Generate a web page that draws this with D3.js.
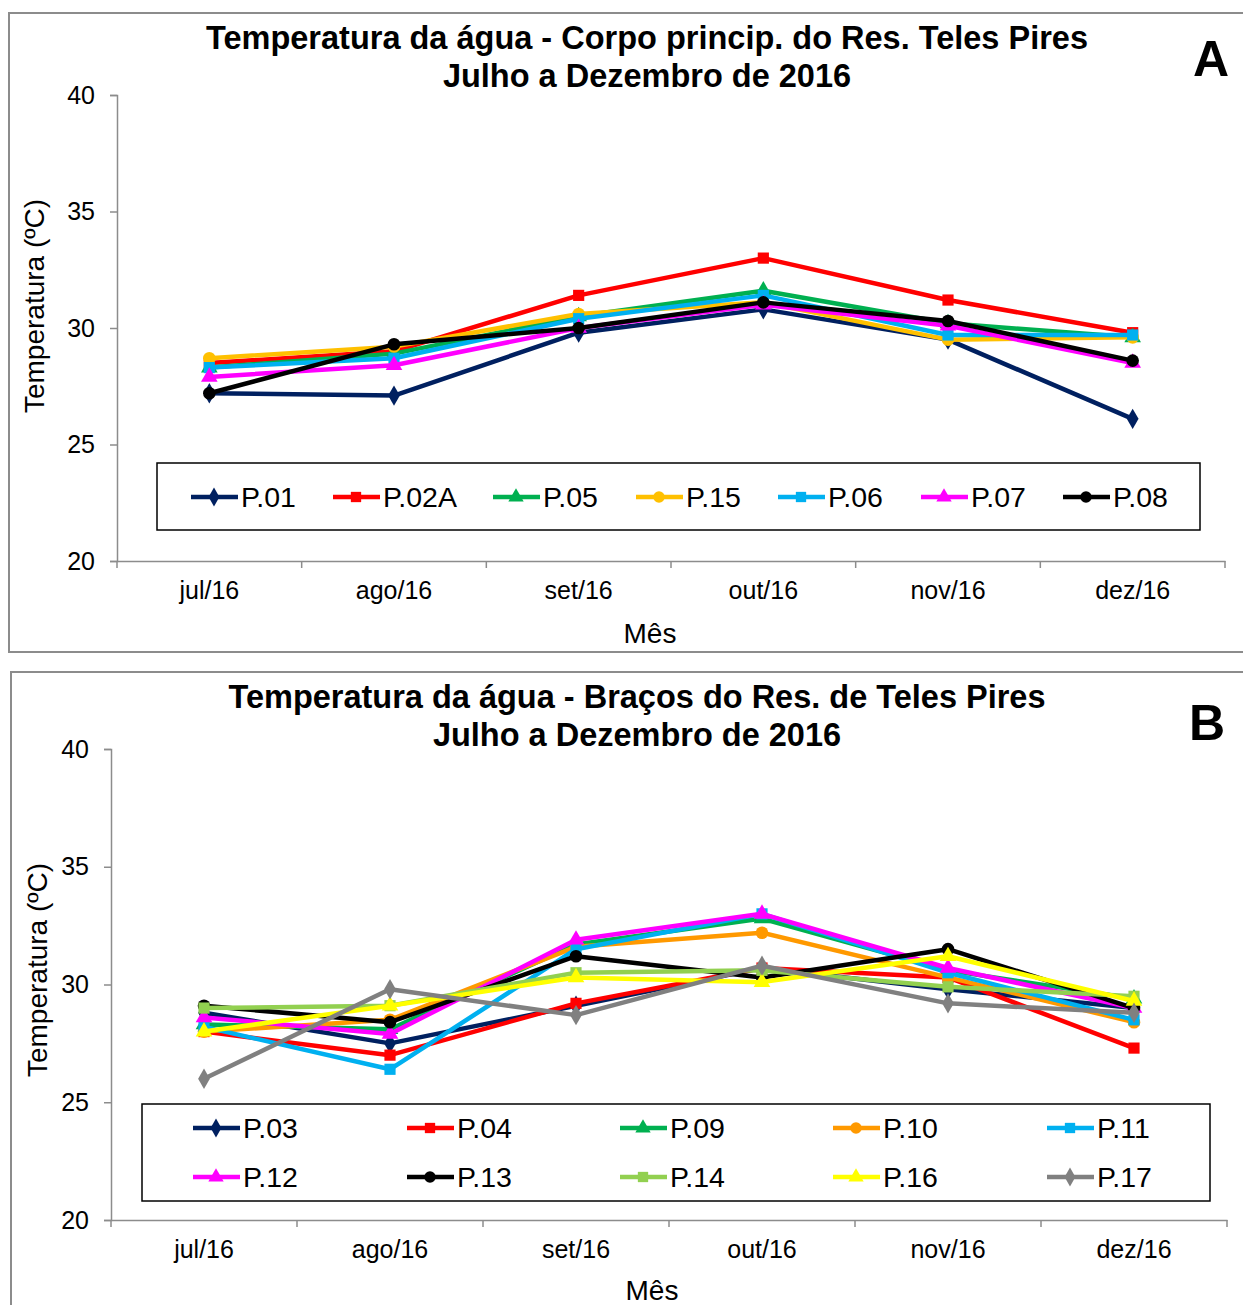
<!DOCTYPE html>
<html><head><meta charset="utf-8">
<script src="https://cdn.jsdelivr.net/npm/d3@7"></script>
<style>body{margin:0;background:#fff}svg{display:block;font-family:"Liberation Sans",Arial,sans-serif}</style>
</head><body>
<svg id="c" width="1243" height="1305"></svg>
<script>
const months = ["jul/16","ago/16","set/16","out/16","nov/16","dez/16"];
const yTicks = [20,25,30,35,40];

const namesA = ["P.01","P.02A","P.05","P.15","P.06","P.07","P.08"];
const colorsA = ["#002060","#FF0000","#00B050","#FFC000","#00B0F0","#FF00FF","#000000"];
const shapesA = ["diamond","square","triangle","circle","square","triangle","circle"];
const p01 = [27.2,27.1,29.8,30.8,29.5,26.1];
const p02A = [28.5,29.0,31.4,33.0,31.2,29.8];
const p05 = [28.3,28.9,30.5,31.6,30.2,29.6];
const p15 = [28.7,29.2,30.6,31.1,29.5,29.6];
const p06 = [28.3,28.7,30.4,31.4,29.7,29.7];
const p07 = [27.9,28.4,30.0,31.0,30.1,28.5];
const p08 = [27.2,29.3,30.0,31.1,30.3,28.6];
const valuesA = [p01,p02A,p05,p15,p06,p07,p08];

const namesB = ["P.03","P.04","P.09","P.10","P.11","P.12","P.13","P.14","P.16","P.17"];
const colorsB = ["#002060","#FF0000","#00B050","#FF9900","#00B0F0","#FF00FF","#000000","#92D050","#FFFF00","#808080"];
const shapesB = ["diamond","square","triangle","circle","square","triangle","circle","square","triangle","diamond"];
const p03 = [28.8,27.5,29.1,30.7,29.8,29.0];
const p04 = [28.0,27.0,29.2,30.7,30.3,27.3];
const p09 = [28.3,28.1,31.7,32.8,30.6,29.4];
const p10 = [28.0,28.5,31.6,32.2,30.3,28.4];
const p11 = [28.2,26.4,31.5,33.0,30.5,28.5];
const p12 = [28.6,27.9,31.9,33.0,30.7,29.0];
const p13 = [29.1,28.4,31.2,30.3,31.5,29.0];
const p14 = [29.0,29.1,30.5,30.6,29.9,29.5];
const p16 = [28.0,29.1,30.3,30.1,31.2,29.3];
const p17 = [26.0,29.8,28.7,30.8,29.2,28.8];
const valuesB = [p03,p04,p09,p10,p11,p12,p13,p14,p16,p17];

const svg = d3.select("#c");
const symMap = {diamond:d3.symbolDiamond, square:d3.symbolSquare, triangle:d3.symbolTriangle, circle:d3.symbolCircle};
const symSize = {diamond:120, square:125, triangle:120, circle:125};

function marker(g, shape, color, x, y, scale){
  g.append("path")
    .attr("d", d3.symbol().type(symMap[shape]).size(symSize[shape]*(scale||1))())
    .attr("transform", `translate(${x},${y})`)
    .attr("fill", color);
}

function panel(cfg){
  const g = svg.append("g");
  g.append("rect").attr("x",cfg.frame[0]).attr("y",cfg.frame[1]).attr("width",cfg.frame[2]).attr("height",cfg.frame[3])
    .attr("fill","none").attr("stroke","#8c8c8c").attr("stroke-width",2);
  const x = d3.scaleBand().domain(months).range([cfg.x0,cfg.x1]).paddingInner(0).paddingOuter(0);
  const y = d3.scaleLinear().domain([20,40]).range([cfg.yb,cfg.yt]);
  const ya = g.append("g").attr("transform",`translate(${cfg.x0},0)`)
    .call(d3.axisLeft(y).tickValues(yTicks).tickSize(7).tickPadding(15));
  ya.select(".domain").attr("stroke","#8c8c8c").attr("stroke-width",1.5);
  ya.selectAll(".tick line").attr("stroke","#8c8c8c").attr("stroke-width",1.5);
  ya.selectAll("text").attr("font-size",25).attr("fill","#000").attr("font-family","Liberation Sans, Arial, sans-serif");
  const xa = g.append("g").attr("transform",`translate(0,${cfg.yb})`)
    .call(d3.axisBottom(x).tickSize(0).tickPadding(20));
  xa.select(".domain").attr("stroke","#8c8c8c").attr("stroke-width",1.5);
  xa.selectAll("text").attr("font-size",25).attr("fill","#000").attr("font-family","Liberation Sans, Arial, sans-serif");
  const bounds = months.map(m=>x(m)).concat([cfg.x1]);
  g.selectAll(".xt").data(bounds).enter().append("line")
    .attr("x1",d=>d).attr("x2",d=>d).attr("y1",cfg.yb).attr("y2",cfg.yb+7)
    .attr("stroke","#8c8c8c").attr("stroke-width",1.5);
  const cx = m => x(m)+x.bandwidth()/2;
  cfg.values.forEach((vals,i)=>{
    const line = d3.line().x((d,j)=>cx(months[j])).y(d=>y(d));
    g.append("path").datum(vals).attr("d",line).attr("fill","none")
      .attr("stroke",cfg.colors[i]).attr("stroke-width",4.5).attr("stroke-linejoin","round");
    vals.forEach((v,j)=>marker(g,cfg.shapes[i],cfg.colors[i],cx(months[j]),y(v)));
  });
  cfg.title.forEach((t,k)=>{
    g.append("text").attr("x",cfg.titleX).attr("y",cfg.titleY[k]).attr("text-anchor","middle")
      .attr("font-size",32.5).attr("font-weight","bold").text(t);
  });
  g.append("text").attr("x",cfg.letter[0]).attr("y",cfg.letter[1]).attr("text-anchor","middle")
    .attr("font-size",50).attr("font-weight","bold").text(cfg.letterText);
  g.append("text").attr("transform",`translate(${cfg.ylab[0]},${cfg.ylab[1]}) rotate(-90)`).attr("text-anchor","middle")
    .attr("font-size",28).text("Temperatura (ºC)");
  g.append("text").attr("x",cfg.xlab[0]).attr("y",cfg.xlab[1]).attr("text-anchor","middle")
    .attr("font-size",28).text("Mês");
  const L = cfg.legend;
  g.append("rect").attr("x",L.box[0]).attr("y",L.box[1]).attr("width",L.box[2]).attr("height",L.box[3])
    .attr("fill","#fff").attr("stroke","#000").attr("stroke-width",1.5);
  cfg.names.forEach((n,i)=>{
    const lx = L.xs[i % L.xs.length];
    const ly = L.ys[Math.floor(i / L.xs.length)];
    g.append("line").attr("x1",lx).attr("x2",lx+47).attr("y1",ly).attr("y2",ly)
      .attr("stroke",cfg.colors[i]).attr("stroke-width",4.5);
    marker(g,cfg.shapes[i],cfg.colors[i],lx+23,ly,0.85);
    g.append("text").attr("x",lx+50).attr("y",ly+10).attr("font-size",28.5).text(n);
  });
}

panel({
  frame:[9,13,1250,639],
  x0:117, x1:1225, yb:561, yt:95,
  values:valuesA, colors:colorsA, shapes:shapesA, names:namesA,
  title:["Temperatura da água - Corpo princip. do Res. Teles Pires","Julho a Dezembro de 2016"],
  titleX:647, titleY:[49,87],
  letter:[1211,76], letterText:"A",
  ylab:[44,306], xlab:[650,643],
  legend:{box:[157,463,1043,67], xs:[191,333,493,636,778,921,1063], ys:[497]}
});

panel({
  frame:[11,672,1250,650],
  x0:111, x1:1227, yb:1220, yt:749,
  values:valuesB, colors:colorsB, shapes:shapesB, names:namesB,
  title:["Temperatura da água - Braços do Res. de Teles Pires","Julho a Dezembro de 2016"],
  titleX:637, titleY:[708,746],
  letter:[1207,740], letterText:"B",
  ylab:[47,970], xlab:[652,1300],
  legend:{box:[142,1104,1068,97], xs:[193,407,620,833,1047], ys:[1128,1177]}
});
</script>
</body></html>
